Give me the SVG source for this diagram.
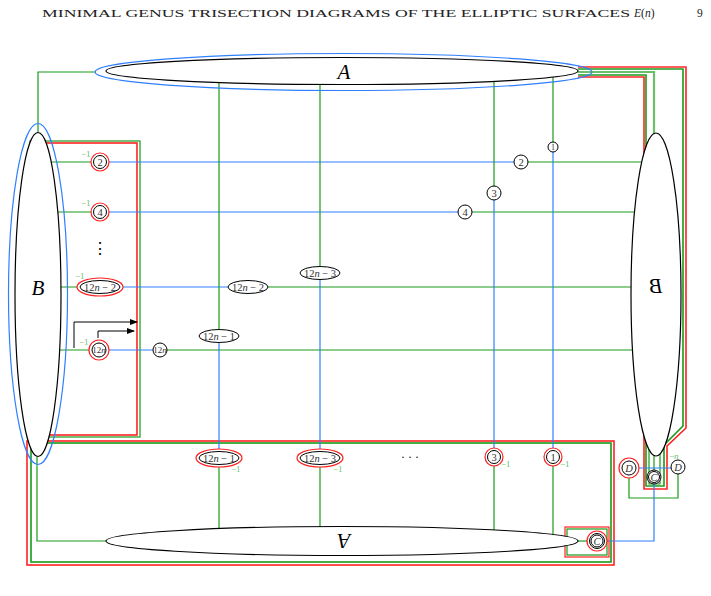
<svg xmlns="http://www.w3.org/2000/svg" width="711" height="596" viewBox="0 0 711 596">
<defs>
<style>
.g{fill:none;stroke:#1a9a1a;stroke-width:1.2}
.lg{fill:none;stroke:#6cc06c;stroke-width:1.6}
.b{fill:none;stroke:#2f80ff;stroke-width:1.2}
.r{fill:none;stroke:#ff2020;stroke-width:1.2}
.lr{fill:none;stroke:#ff7a7a;stroke-width:1.6}
.k{fill:none;stroke:#000;stroke-width:1}
.ell{fill:#fff;stroke:#000;stroke-width:1.2}
.be{fill:none;stroke:#2f80ff;stroke-width:1.2}
.n{fill:#fff;stroke:#000;stroke-width:1}
.nr{fill:#fff;stroke:#ff2020;stroke-width:1.2}
.t{font-family:"Liberation Serif",serif;font-size:10.5px;fill:#333;text-anchor:middle}
.m{font-family:"Liberation Serif",serif;font-size:9px;fill:#6cc06c}
.big{font-family:"Liberation Serif",serif;font-style:italic;font-size:21px;fill:#000;text-anchor:middle}
.hd{font-family:"Liberation Serif",serif;font-size:10.5px;fill:#222}
</style>
<marker id="ah" viewBox="0 0 8 6" refX="7" refY="3" markerWidth="8" markerHeight="6" orient="auto" markerUnits="userSpaceOnUse">
<path d="M0,0 L8,3 L0,6 z" fill="#000"/>
</marker>
</defs>

<text class="hd" x="42" y="17" textLength="588" lengthAdjust="spacingAndGlyphs">MINIMAL GENUS TRISECTION DIAGRAMS OF THE ELLIPTIC SURFACES</text>
<text class="hd" x="634" y="17" style="font-size:11.5px"><tspan font-style="italic">E</tspan>(<tspan font-style="italic">n</tspan>)</text>
<text class="hd" x="697" y="17" style="font-size:11.5px">9</text>

<g id="connectors">
<rect class="lr" x="27" y="441" width="587" height="124"/>
<rect class="r" x="27" y="441" width="587" height="124"/>
<rect class="lg" x="31" y="443" width="580" height="119"/>
<rect class="g" x="31" y="443" width="580" height="119"/>
<rect class="g" x="30" y="141" width="110" height="296"/>
<rect class="lr" x="32" y="143" width="105" height="292"/>
<rect class="r" x="32" y="143" width="105" height="292"/>
<path class="g" d="M96,72 H38 V140"/>
<path class="g" d="M37,450 V541 H120"/>
<path class="g" d="M38,162 H100"/><path class="b" d="M100,162 H521"/><path class="g" d="M521,162 H656"/>
<path class="g" d="M38,212 H100"/><path class="b" d="M100,212 H465"/><path class="g" d="M465,212 H656"/>
<path class="g" d="M38,287 H100"/><path class="b" d="M100,287 H248"/><path class="g" d="M248,287 H656"/>
<path class="g" d="M38,350 H99"/><path class="b" d="M99,350 H160"/><path class="g" d="M160,350 H656"/>
<path class="g" d="M219,80 V336"/><path class="b" d="M219,336 V458"/><path class="g" d="M219,458 V541"/>
<path class="g" d="M320,80 V273"/><path class="b" d="M320,273 V458"/><path class="g" d="M320,458 V541"/>
<path class="g" d="M494,80 V193"/><path class="b" d="M494,193 V457"/><path class="g" d="M494,457 V541"/>
<path class="g" d="M553,75 V147"/><path class="b" d="M553,147 V457"/><path class="g" d="M553,457 V541"/>
<path class="lr" d="M578,77 H644 V489 H667 V446 L686,428 V67 H578"/>
<path class="r" d="M578,77 H644 V489 H667 V446 L686,428 V67 H578"/>
<path class="lg" d="M578,75 H646 V486 H664 V445 L683,426 V69 H578"/>
<path class="g" d="M578,75 H646 V486 H664 V445 L683,426 V69 H578"/>
<path class="lg" d="M578,72 H654 V145" style="stroke-width:2.2"/>
<path class="g" d="M649,430 V484 H660 V430"/>
<path class="g" d="M654,440 V477"/>
<path class="g" d="M629,468 V498 H678 V468"/>
<path class="b" d="M629,468 H678"/>
<path class="b" d="M654,477 V541 H597"/>
<path class="g" d="M570,541 H597"/>
<rect class="r" x="565" y="527" width="44" height="30"/>
<rect class="g" x="567" y="529" width="40" height="26"/>
<path class="k" d="M74,348 V322 H137" marker-end="url(#ah)"/>
<path class="k" d="M98,338 V331 H134" marker-end="url(#ah)"/>
</g>

<g id="A-top">
<ellipse class="ell" cx="342" cy="71" rx="236" ry="13.5"/>
<ellipse class="be" cx="343.5" cy="72" rx="248.5" ry="18.5"/>
<text class="big" x="344" y="79">A</text>
</g>
<g id="A-bottom">
<ellipse class="ell" cx="342" cy="541" rx="236" ry="14.5"/>
<text class="big" transform="rotate(180 344 541)" x="344" y="548">A</text>
</g>
<g id="B-left">
<ellipse class="ell" cx="38" cy="294.5" rx="23" ry="162"/>
<ellipse class="be" cx="38" cy="294" rx="29.5" ry="170.5"/>
<text class="big" x="38" y="295">B</text>
</g>
<g id="B-right">
<ellipse class="ell" cx="656" cy="294.5" rx="25" ry="161.5"/>
<text class="big" transform="translate(1312 0) scale(-1 1)" x="656" y="293">B</text>
</g>

<g id="L2"><circle class="nr" cx="100" cy="162" r="9"/><circle class="n" cx="100" cy="162" r="6.5"/><text class="t" x="100" y="165.8">2</text><text class="m" x="81" y="157">−1</text></g>
<g id="L4"><circle class="nr" cx="100" cy="212" r="9"/><circle class="n" cx="100" cy="212" r="6.5"/><text class="t" x="100" y="215.8">4</text><text class="m" x="81" y="206">−1</text></g>
<g id="Ldots"><text class="t" x="100" y="254" style="font-size:16px;fill:#000">⋮</text></g>
<g id="L12n-2"><ellipse class="nr" cx="100" cy="287" rx="23" ry="9"/><ellipse class="n" cx="100" cy="287" rx="20" ry="6.5"/><text class="t" x="100" y="290.8">12<tspan font-style="italic">n</tspan> − 2</text><text class="m" x="75" y="279">−1</text></g>
<g id="L12n"><circle class="nr" cx="99" cy="350" r="10"/><circle class="n" cx="99" cy="350" r="7"/><text class="t" x="99" y="353.3" style="font-size:9px">12<tspan font-style="italic">n</tspan></text><text class="m" x="79" y="345">−1</text></g>

<g id="M2"><circle class="n" cx="521" cy="162" r="7"/><text class="t" x="521" y="165.8">2</text></g>
<g id="M4"><circle class="n" cx="465" cy="212" r="7"/><text class="t" x="465" y="215.8">4</text></g>
<g id="M3"><circle class="n" cx="494" cy="193" r="7"/><text class="t" x="494" y="196.8">3</text></g>
<g id="M1"><circle class="n" cx="553" cy="147" r="5"/><text class="t" x="553" y="150" style="font-size:8px">1</text></g>
<g id="M12n-2"><ellipse class="n" cx="248" cy="287" rx="20" ry="6.5"/><text class="t" x="248" y="290.8">12<tspan font-style="italic">n</tspan> − 2</text></g>
<g id="M12n-3"><ellipse class="n" cx="320" cy="273" rx="20" ry="6.5"/><text class="t" x="320" y="276.8">12<tspan font-style="italic">n</tspan> − 3</text></g>
<g id="M12n-1"><ellipse class="n" cx="219" cy="336" rx="20" ry="6.5"/><text class="t" x="219" y="339.8">12<tspan font-style="italic">n</tspan> − 1</text></g>
<g id="M12n"><circle class="n" cx="160" cy="350" r="7"/><text class="t" x="160" y="353.3" style="font-size:9px">12<tspan font-style="italic">n</tspan></text></g>

<g id="B12n-1"><ellipse class="nr" cx="219" cy="458" rx="23" ry="9"/><ellipse class="n" cx="219" cy="458" rx="20" ry="6.5"/><text class="t" x="219" y="461.8">12<tspan font-style="italic">n</tspan> − 1</text><text class="m" x="231" y="472">−1</text></g>
<g id="B12n-3"><ellipse class="nr" cx="320" cy="458" rx="23" ry="9"/><ellipse class="n" cx="320" cy="458" rx="20" ry="6.5"/><text class="t" x="320" y="461.8">12<tspan font-style="italic">n</tspan> − 3</text><text class="m" x="333" y="472">−1</text></g>
<g id="Bdots"><text class="t" x="410" y="461" style="font-size:12px;fill:#000">· · ·</text></g>
<g id="B3"><circle class="nr" cx="494" cy="457" r="9"/><circle class="n" cx="494" cy="457" r="6.5"/><text class="t" x="494" y="460.8">3</text><text class="m" x="501" y="467">−1</text></g>
<g id="B1"><circle class="nr" cx="553" cy="457" r="9"/><circle class="n" cx="553" cy="457" r="6.5"/><text class="t" x="553" y="460.8">1</text><text class="m" x="560" y="467">−1</text></g>

<g id="Dl"><circle class="nr" cx="629" cy="468" r="10"/><circle class="n" cx="629" cy="468" r="7"/><text class="t" x="629" y="471.8" font-style="italic">D</text></g>
<g id="Dr"><circle class="n" cx="678" cy="467" r="7"/><text class="t" x="678" y="470.8" font-style="italic">D</text><text class="m" x="669" y="459">−<tspan font-style="italic">n</tspan></text></g>
<g id="C1"><circle class="n" cx="654" cy="477" r="7"/><circle class="n" cx="654" cy="477" r="5.5" style="fill:none"/><text class="t" x="654" y="480.8" font-style="italic">C</text></g>
<g id="C2"><circle class="nr" cx="597" cy="541" r="10"/><circle class="n" cx="597" cy="541" r="7.5"/><circle class="n" cx="597" cy="541" r="6" style="fill:none"/><text class="t" x="597" y="544.8" font-style="italic">C</text></g>
</svg>
